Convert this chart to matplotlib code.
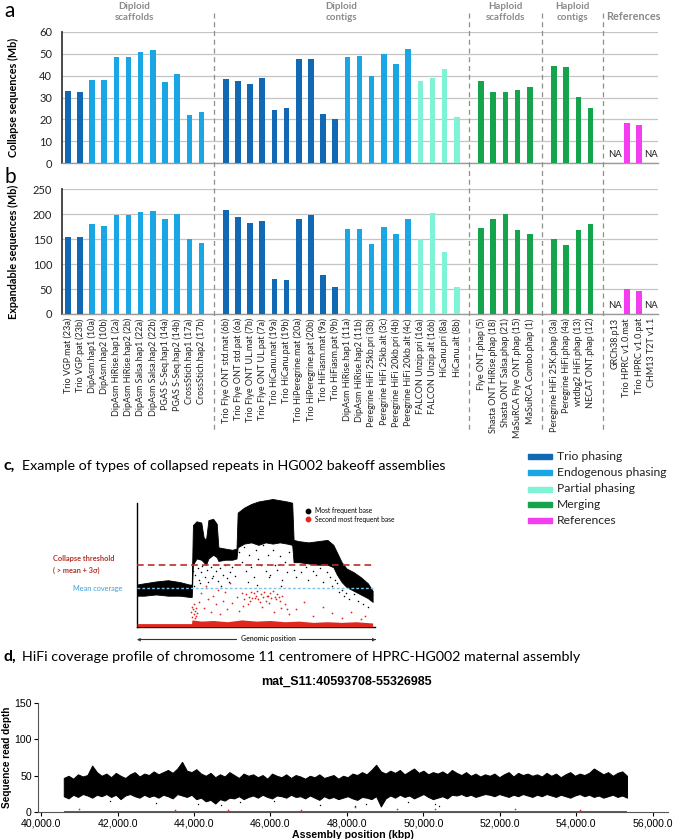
import matplotlib
matplotlib.use("Agg")
import matplotlib.pyplot as plt
import numpy as np
from matplotlib.lines import Line2D
from matplotlib.patches import Rectangle
from matplotlib.transforms import blended_transform_factory

plt.rcParams['font.family'] = ['Lato', 'DejaVu Sans']

# ---------------- data: panels a & b ----------------
group_names = ["Diploid\nscaffolds", "Diploid\ncontigs", "Haploid\nscaffolds", "Haploid\ncontigs", "References"]

labels_dip_scaf = ["Trio VGP.mat (23a)", "Trio VGP.pat (23b)", "DipAsm.hap1 (10a)", "DipAsm.hap2 (10b)",
                   "DipAsm HiRise.hap1 (2a)", "DipAsm HiRise.hap2 (2b)", "DipAsm Salsa.hap1 (22a)",
                   "DipAsm Salsa.hap2 (22b)", "PGAS S-Seq.hap1 (14a)", "PGAS S-Seq.hap2 (14b)",
                   "CrossStich.hap1 (17a)", "CrossStich.hap2 (17b)"]
labels_dip_ctg = ["Trio Flye ONT std.mat (6b)", "Trio Flye ONT std.pat (6a)", "Trio Flye ONT UL.mat (7b)",
                  "Trio Flye ONT UL.pat (7a)", "Trio HiCanu.mat (19a)", "Trio HiCanu.pat (19b)",
                  "Trio HiPeregrine.mat (20a)", "Trio HiPeregrine.pat (20b)", "Trio HiFiasm.mat (9a)",
                  "Trio HiFiasm.pat (9b)", "DipAsm HiRise.hap1 (11a)", "DipAsm HiRise.hap2 (11b)",
                  "Peregrine HiFi 25kb.pri (3b)", "Peregrine HiFi 25kb.alt (3c)", "Peregrine HiFi 20kb.pri (4b)",
                  "Peregrine HiFi 20kb.alt (4c)", "FALCON Unzip.pri (16a)", "FALCON Unzip.alt (16b)",
                  "HiCanu.pri (8a)", "HiCanu.alt (8b)"]
labels_hap_scaf = ["Flye ONT.phap (5)", "Shasta ONT HiRise.phap (18)", "Shasta ONT Salsa.phap (21)",
                   "MaSuRCA Flye ONT.phap (15)", "MaSuRCA Combo.phap (1)"]
labels_hap_ctg = ["Peregrine HiFi 25K.phap (3a)", "Peregrine HiFi.phap (4a)", "wtdbg2 HiFi.phap (13)",
                  "NECAT ONT.phap (12)"]
labels_ref = ["GRCh38.p13", "Trio HPRC v1.0.mat", "Trio HPRC v1.0.pat", "CHM13 T2T v1.1"]

collapse_dip_scaf = [32.8, 32.4, 37.8, 37.8, 48.6, 48.6, 50.9, 51.7, 36.9, 40.6, 22.0, 23.4]
collapse_dip_ctg = [38.3, 37.4, 36.0, 38.8, 24.3, 25.2, 47.7, 47.7, 22.5, 20.1,
                    48.5, 48.9, 39.8, 49.8, 45.1, 52.1, 37.4, 39.1, 43.2, 21.1]
collapse_hap_scaf = [37.4, 32.5, 32.5, 33.4, 34.7]
collapse_hap_ctg = [44.5, 44.1, 30.1, 25.4]
collapse_ref = [None, 18.4, 17.6, None]

expand_dip_scaf = [154.4, 154.4, 180.5, 175.8, 197.9, 199.2, 203.9, 205.9, 189.8, 201.2, 150.5, 143.0]
expand_dip_ctg = [207.9, 193.9, 183.2, 186.5, 69.5, 67.5, 189.8, 197.9, 77.5, 53.5,
                  169.8, 169.8, 140.4, 173.8, 160.4, 189.8, 149.7, 201.9, 124.3, 53.5]
expand_hap_scaf = [171.8, 191.2, 199.9, 167.8, 160.4]
expand_hap_ctg = [150.4, 138.4, 167.8, 180.5]
expand_ref = [None, 49.5, 45.5, None]

phasing_dip_scaf = ["Trio"] * 2 + ["Endo"] * 10
phasing_dip_ctg = ["Trio"] * 10 + ["Endo"] * 6 + ["Partial"] * 4
phasing_hap_scaf = ["Merge"] * 5
phasing_hap_ctg = ["Merge"] * 4
phasing_ref = ["Ref"] * 4

legend_keys = ["Trio", "Endo", "Partial", "Merge", "Ref"]
legend_names = ["Trio phasing", "Endogenous phasing", "Partial phasing", "Merging", "References"]
phase_colors = {"Trio": "#1169b4", "Endo": "#1aa6e4", "Partial": "#7ff3d6",
                "Merge": "#14a54c", "Ref": "#f43cf0"}

group_labels = [labels_dip_scaf, labels_dip_ctg, labels_hap_scaf, labels_hap_ctg, labels_ref]
group_collapse = [collapse_dip_scaf, collapse_dip_ctg, collapse_hap_scaf, collapse_hap_ctg, collapse_ref]
group_expand = [expand_dip_scaf, expand_dip_ctg, expand_hap_scaf, expand_hap_ctg, expand_ref]
group_phase = [phasing_dip_scaf, phasing_dip_ctg, phasing_hap_scaf, phasing_hap_ctg, phasing_ref]

# ---------------- data: panel c (illustration) ----------------
c_u = [0, 3, 8, 13, 18, 22, 23.0, 23.5, 25, 27, 28, 29, 30, 32, 33.5, 34.2, 37, 40, 41.8, 42.3,
       45, 48, 51, 54, 57, 60, 63, 65.2, 65.8, 68, 72, 76, 80, 82.5, 84, 86, 88, 91, 94, 97, 99]
c_upper = [34, 35, 36.5, 37.5, 36, 34, 34, 82, 85, 84, 72, 70, 86, 87, 83, 64, 63, 62, 63, 92,
           96, 99, 101, 102, 103, 102, 101, 100, 70, 69, 68, 69, 70, 66, 60, 52, 47, 44, 40, 35, 29]
c_lower = [25, 25, 26, 25, 25, 24, 24, 50, 55, 54, 52, 50, 55, 58, 56, 53, 54, 54, 55, 64,
           67, 68, 66, 68, 67, 68, 67, 66, 52, 52, 51, 50, 50, 48, 42, 36, 32, 29, 26, 23, 20]
c_black_u = [23.5, 24.5, 25.5, 26, 27, 27.5, 28.5, 29.5, 30, 31, 32, 33, 34, 35, 36, 37, 38, 39, 40, 41,
             24, 26.5, 29, 31.5, 35.5, 38.5, 43, 44, 45, 46, 47, 48, 49, 50, 51, 52, 53, 54, 55, 56,
             57, 58, 59, 60, 61, 62, 63, 64, 46.5, 50.5, 55.5, 60.5, 66, 67, 69, 71, 72, 74, 75, 77,
             78, 80, 81, 82, 84, 85, 86, 88, 89, 91, 93, 95, 97, 83, 87]
c_black_v = [45, 42, 47, 38, 44, 49, 40, 46, 36, 48, 41, 45, 37, 47, 42, 50, 39, 44, 48, 41,
             33, 35, 31, 39, 33, 36, 60, 52, 64, 45, 58, 48, 40, 62, 55, 50, 66, 45, 58, 42,
             62, 50, 46, 57, 38, 52, 44, 60, 36, 34, 40, 33, 46, 40, 44, 48, 38, 45, 42, 47,
             36, 44, 40, 33, 35, 28, 30, 27, 22, 26, 21, 18, 16, 38, 25]
c_red_u = [22.8, 23.2, 23.6, 24.0, 24.4, 24.8, 25.3, 23.0, 24.2, 23.8, 24.6, 26, 27, 28, 29, 30, 31,
           32, 33, 34, 35, 36, 37, 38, 39, 40, 42, 43, 44, 45, 46, 47, 48, 48.5, 49, 50, 50.5, 51,
           52, 53, 53.5, 54, 55, 56, 56.5, 57, 58, 59, 60, 61, 62, 63, 64, 46.5, 52.5, 57.5, 60.5,
           47.5, 49.5, 51.5, 54.5, 58.5, 44.5, 55.5, 59.5, 67, 70, 74, 78, 82, 86, 90, 94, 96]
c_red_v = [12, 16, 14, 10, 13, 9, 11, 8, 7, 18, 15, 20, 27, 15, 33, 22, 12, 25, 18, 30, 10,
           21, 28, 14, 35, 19, 24, 13, 27, 22, 26, 24, 28, 23, 27, 25, 29, 22, 26, 24, 28, 21,
           25, 27, 23, 29, 24, 26, 21, 25, 18, 14, 10, 18, 16, 12, 15,
           21, 23, 20, 25, 22, 17, 19, 24, 14, 20, 9, 16, 11, 7, 12, 6, 9]
c_redband_u = [0, 22.9, 23.1, 27, 32, 38, 44, 50, 56, 62, 68, 74, 80, 86, 92, 99]
c_redband_top = [2.5, 2.5, 5.5, 4.5, 5, 4, 5.5, 4.5, 5, 4, 4.5, 3.5, 4, 3.5, 4, 3]
c_threshold = 50
c_mean = 31.5

# ---------------- data: panel d ----------------
d_pos = np.linspace(40594, 55327, 120)
d_upper = [47, 50, 46, 52, 49, 51, 64, 55, 50, 53,
           48, 54, 50, 47, 52, 55, 49, 53, 51, 56,
           52, 55, 58, 54, 60, 69, 57, 55, 59, 53,
           50, 54, 48, 52, 49, 55, 51, 47, 53, 50,
           52, 48, 51, 46, 53, 50, 48, 52, 47, 51,
           49, 46, 50, 48, 52, 47, 49, 51, 46, 50,
           48, 53, 51, 55, 52, 58, 65, 56, 53, 57,
           54, 58, 52, 56, 60, 54, 57, 52, 55, 53,
           56, 52, 58, 54, 51, 55, 50, 53, 49, 52,
           50, 53, 48, 52, 55, 49, 54, 51, 53, 50,
           52, 49, 54, 50, 53, 48, 52, 55, 50, 53,
           51, 54, 60, 56, 52, 55, 50, 54, 56, 50]
d_lower = [22, 19, 24, 21, 25, 23, 20, 24, 22, 25,
           21, 24, 18, 23, 25, 22, 20, 24, 21, 23,
           20, 24, 22, 19, 25, 23, 21, 24, 18, 20,
           15, 17, 12, 18, 16, 20, 19, 22, 18, 21,
           23, 20, 24, 21, 19, 23, 22, 20, 24, 21,
           22, 19, 23, 20, 17, 22, 19, 21, 18, 20,
           22, 19, 17, 21, 20, 18, 22, 8, 19, 23,
           20, 24, 21, 23, 19, 22, 25, 21, 18, 20,
           22, 19, 24, 23, 25, 22, 24, 21, 23, 25,
           24, 22, 25, 23, 21, 24, 22, 25, 23, 21,
           24, 22, 25, 23, 21, 24, 22, 20, 23, 25,
           22, 24, 21, 23, 20, 22, 24, 21, 23, 20]
d_black_x = [41800, 43000, 44100, 44700, 46100, 47300, 48200, 49600, 50300, 50400, 45200, 48500]
d_black_y = [15, 13, 12, 10, 16, 10, 8, 14, 12, 9, 14, 11]
d_red_x = [41000, 43500, 46800, 48200, 50300, 52400, 54100, 44900, 49300]
d_red_y = [4, 3, 3, 7, 4, 5, 3, 3, 4]

# ---------------- figure ----------------
W, H = 674, 839
fig = plt.figure(figsize=(W / 100, H / 100), dpi=100)


def ax_rect(l, t, r, b):
    return [l / W, 1 - b / H, (r - l) / W, (b - t) / H]


def fy(py):
    return 1 - py / H


# slot positions (one empty slot between groups)
xs_groups = []
pos = 0
seps = []
for gi, labs in enumerate(group_labels):
    xs_groups.append(list(range(pos, pos + len(labs))))
    pos += len(labs)
    if gi < len(group_labels) - 1:
        seps.append(pos)
        pos += 1

all_x = [x for g in xs_groups for x in g]
all_labels = [l for g in group_labels for l in g]

axA = fig.add_axes(ax_rect(62, 31.7, 658, 163.3))
axB = fig.add_axes(ax_rect(62, 189.3, 658, 314))

for ax, vals_groups, ymax, ystep, na_y in [(axA, group_collapse, 60, 10, 2.0),
                                           (axB, group_expand, 250, 50, 8.0)]:
    for xg, vg, pg in zip(xs_groups, vals_groups, group_phase):
        for x, v, p in zip(xg, vg, pg):
            if v is None:
                ax.text(x, na_y, "NA", ha="center", va="bottom", fontsize=6.8, color="#222222")
            else:
                ax.bar(x, v, width=0.46, color=phase_colors[p], zorder=3)
    ax.set_xlim(-0.47, pos - 1 + 0.55)
    ax.set_ylim(0, ymax)
    ax.set_yticks(np.arange(0, ymax + 1, ystep))
    ax.grid(axis="y", color="#c4c4c4", lw=0.9)
    ax.set_axisbelow(True)
    for s in ["top", "right"]:
        ax.spines[s].set_visible(False)
    ax.spines["left"].set_color("#3a3a3a")
    ax.spines["left"].set_linewidth(1.3)
    ax.spines["bottom"].set_color("#9a9a9a")
    ax.spines["bottom"].set_linewidth(1.0)
    ax.tick_params(axis="y", length=0, labelsize=8, pad=7, labelcolor="#222222")
    ax.tick_params(axis="x", length=0)

axA.set_xticks([])
axB.set_xticks(all_x)
axB.set_xticklabels(all_labels, rotation=90, fontsize=6.5, color="#222222")
axB.tick_params(axis="x", pad=3)

axA.set_ylabel("Collapse sequences (Mb)", fontsize=7.8, fontweight="bold")
axA.yaxis.set_label_coords(-0.072, 0.5)
axB.set_ylabel("Expandable sequences (Mb)", fontsize=7.8, fontweight="bold")
axB.yaxis.set_label_coords(-0.072, 0.5)

# separators and group headers
btr = blended_transform_factory(axA.transData, fig.transFigure)
for s in seps:
    fig.add_artist(Line2D([s, s], [fy(13), fy(432)], transform=btr, color="#8f8f8f",
                          lw=0.9, ls=(0, (4, 3))))
for gi, (name, xg) in enumerate(zip(group_names, xs_groups)):
    cx = (xg[0] + xg[-1]) / 2
    if "\n" in name:
        fig.text(cx, fy(12), name, transform=btr, ha="center", va="center",
                 fontsize=7.0, fontweight="bold", color="#8a8a8a", linespacing=1.35)
    else:
        fig.text(cx, fy(17), name, transform=btr, ha="center", va="center",
                 fontsize=7.8, fontweight="bold", color="#8a8a8a")

fig.text(4 / W, fy(11), "a", fontsize=15, va="center", ha="left")
fig.text(4 / W, fy(177), "b", fontsize=15, va="center", ha="left")

# legend
leg_rows = [457, 473, 489, 504, 520]
for key, name, ry in zip(legend_keys, legend_names, leg_rows):
    fig.add_artist(Rectangle((528 / W, fy(ry + 2.5)), 24 / W, 5 / H, transform=fig.transFigure,
                             color=phase_colors[key]))
    fig.text(557 / W, fy(ry), name, fontsize=8.7, va="center", ha="left", color="#222222")

# ---------------- panel c ----------------
fig.text(4 / W, fy(466), "c,", fontsize=11.5, fontweight="bold", va="center", ha="left")
fig.text(22 / W, fy(466), "Example of types of collapsed repeats in HG002 bakeoff assemblies",
         fontsize=10.3, va="center", ha="left")

axC = fig.add_axes(ax_rect(137, 502.7, 375, 626.7))
axC.fill_between(c_u, c_lower, c_upper, color="black", lw=0.6, zorder=2, clip_on=False)
axC.scatter(c_black_u, c_black_v, s=1.2, color="black", lw=0, zorder=2)
axC.fill_between(c_redband_u, 0, c_redband_top, color="#e0281e", lw=0, zorder=3)
axC.scatter(c_red_u, c_red_v, s=1.6, color="#e0281e", lw=0, zorder=3)
axC.plot([0, 100], [c_threshold, c_threshold], color="#b5302a", lw=1.2, ls=(0, (4, 2.5)), zorder=4)
axC.plot([0, 100], [c_mean, c_mean], color="#7cc3ec", lw=1.0, ls=(0, (2, 1.5)), zorder=4)
axC.set_xlim(0, 100)
axC.set_ylim(0, 100)
axC.set_xticks([])
axC.set_yticks([])
for s in ["top", "right"]:
    axC.spines[s].set_visible(False)
axC.spines["left"].set_linewidth(1.0)
axC.spines["bottom"].set_linewidth(1.0)
axC.scatter([72], [93.5], s=10, color="black", zorder=5, clip_on=False)
axC.scatter([72], [86.6], s=10, color="#e0281e", zorder=5, clip_on=False)
axC.text(74.8, 93.5, "Most frequent base", fontsize=4.8, va="center", ha="left")
axC.text(74.8, 86.6, "Second most frequent base", fontsize=4.8, va="center", ha="left")

fig.text(53 / W, fy(559), "Collapse threshold", fontsize=5.3, fontweight="bold", color="#b5302a",
         va="center", ha="left")
fig.text(53 / W, fy(570), "( > mean + 3\u03c3)", fontsize=5.3, fontweight="bold", color="#b5302a",
         va="center", ha="left", family=["Lato", "DejaVu Sans"])
fig.text(73 / W, fy(589), "Mean coverage", fontsize=5.3, color="#3fa0d8", va="center", ha="left")

fig.add_artist(Line2D([138 / W, 375 / W], [fy(639), fy(639)], transform=fig.transFigure,
                      color="#333333", lw=0.8))
fig.text(137 / W, fy(639), "\u25c0", fontsize=3.5, va="center", ha="left", color="#333333",
         family="DejaVu Sans")
fig.text(376 / W, fy(639), "\u25b6", fontsize=3.5, va="center", ha="right", color="#333333",
         family="DejaVu Sans")
fig.text(268 / W, fy(639), "Genomic position", fontsize=5.0, fontweight="bold", va="center",
         ha="center", color="#333333", bbox=dict(facecolor="white", edgecolor="none", pad=2.5))

# ---------------- panel d ----------------
fig.text(4 / W, fy(657), "d,", fontsize=11.5, fontweight="bold", va="center", ha="left")
fig.text(22 / W, fy(657), "HiFi coverage profile of chromosome 11 centromere of HPRC-HG002 maternal assembly",
         fontsize=10.3, va="center", ha="left")
fig.text(346 / W, fy(682), "mat_S11:40593708-55326985", fontsize=9, fontweight="bold",
         family="Liberation Sans", va="center", ha="center")

axD = fig.add_axes(ax_rect(38, 702.7, 668, 812.3))
axD.fill_between(d_pos, d_lower, d_upper, color="black", lw=0.7, zorder=2)
axD.scatter(d_black_x, d_black_y, s=1.0, color="black", lw=0, zorder=2)
axD.fill_between([d_pos[0], d_pos[-1]], 0, 2, color="#e8231c", lw=0, zorder=3)
axD.scatter(d_red_x, d_red_y, s=1.5, color="#e8231c", lw=0, zorder=3)
axD.set_xlim(39920, 56400)
axD.set_ylim(0, 150)
xt = np.arange(40000, 56001, 2000)
axD.set_xticks(xt)
axD.set_xticklabels([f"{v:,.1f}" for v in xt], family="Liberation Sans", fontsize=7.6)
axD.set_yticks([0, 50, 100, 150])
axD.set_yticklabels(["0", "50", "100", "150"], family="Liberation Sans", fontsize=7.6)
axD.tick_params(length=3, width=0.8, pad=1.5)
for s in ["top", "right"]:
    axD.spines[s].set_visible(False)
axD.spines["left"].set_color("#555555")
axD.spines["bottom"].set_color("#555555")
axD.set_xlabel("Assembly position (kbp)", fontsize=7.6, fontweight="bold", family="Liberation Sans",
               labelpad=1)
axD.set_ylabel("Sequence read depth", fontsize=7.2, fontweight="bold", family="Liberation Sans")
axD.yaxis.set_label_coords(-0.042, 0.5)

fig.savefig("out.png", dpi=100, facecolor="white")
